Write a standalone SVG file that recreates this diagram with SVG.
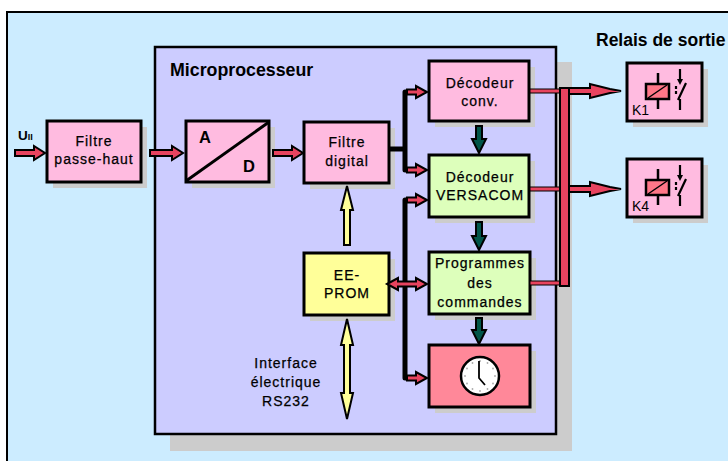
<svg xmlns="http://www.w3.org/2000/svg" width="728" height="461" viewBox="0 0 728 461">
<style>
text{font-family:"Liberation Sans",Arial,sans-serif;fill:#000}
.lbl{font-size:14px;letter-spacing:1px;text-anchor:middle;stroke:#000;stroke-width:0.25}
.bold{font-weight:bold}
.box{stroke:#000;stroke-width:3}
.pink{fill:#FFBBE0}
.green{fill:#DDFFBB}
.yellow{fill:#FFFF99}
.shadow{fill:#CCCCCC}
.red{fill:#E8435F;stroke:#000;stroke-width:2;stroke-linejoin:miter}
.teal{fill:#005548;stroke:#000;stroke-width:2}
.yel{fill:#FFFF99;stroke:#000;stroke-width:2}
.bus{fill:none;stroke:#000;stroke-width:5;stroke-linejoin:round}
.thin{fill:#E8435F;stroke:#000;stroke-width:1}
</style>
<rect x="0" y="0" width="728" height="461" fill="#FFFFFF"/>
<rect x="7" y="12" width="740" height="470" fill="#CCECFF" stroke="#000" stroke-width="2"/>

<g id="microprocesseur">
<rect class="shadow" x="170" y="62" width="402" height="389"/>
<rect x="155" y="47" width="401" height="387" fill="#CCCCFF" stroke="#000" stroke-width="2.5"/>
<text x="170" y="76" class="bold" font-size="17.8">Microprocesseur</text>
</g>

<text x="596" y="46" class="bold" font-size="17.5">Relais de sortie</text>

<g id="u-input">
<text x="18" y="140" class="bold" font-size="13.5">U<tspan font-size="9">II</tspan></text>
</g>

<g id="filtre-passe-haut">
<rect class="shadow" x="53" y="127" width="94" height="61"/>
<rect class="box pink" x="47" y="121" width="94" height="61"/>
<text class="lbl" x="94" y="146">Filtre</text>
<text class="lbl" x="94" y="164">passe-haut</text>
</g>

<g id="ad">
<rect class="shadow" x="192" y="127" width="83" height="61"/>
<rect class="box pink" x="186" y="121" width="83" height="61"/>
<line x1="186" y1="181" x2="269" y2="122" stroke="#000" stroke-width="3"/>
<text x="205" y="143" class="bold" font-size="16.5" text-anchor="middle">A</text>
<text x="249" y="172" class="bold" font-size="16.5" text-anchor="middle">D</text>
</g>

<g id="filtre-digital">
<rect class="shadow" x="310" y="128" width="85" height="61"/>
<rect class="box pink" x="304" y="122" width="85" height="61"/>
<text class="lbl" x="347" y="147">Filtre</text>
<text class="lbl" x="347" y="166">digital</text>
</g>

<g id="ee-prom">
<rect class="shadow" x="310" y="259" width="85" height="62"/>
<rect class="box yellow" x="304" y="253" width="85" height="62"/>
<text class="lbl" x="347" y="280">EE-</text>
<text class="lbl" x="347" y="298">PROM</text>
</g>

<g id="interface-label">
<text class="lbl" x="286" y="368">Interface</text>
<text class="lbl" x="286" y="387">électrique</text>
<text class="lbl" x="286" y="406">RS232</text>
</g>

<g id="decodeur-conv">
<rect class="shadow" x="435" y="67" width="100" height="60"/>
<rect class="box pink" x="429" y="61" width="100" height="60"/>
<text class="lbl" x="480" y="88">Décodeur</text>
<text class="lbl" x="480" y="106">conv.</text>
</g>

<g id="decodeur-versacom">
<rect class="shadow" x="435" y="161" width="100" height="62"/>
<rect class="box green" x="429" y="155" width="100" height="62"/>
<text class="lbl" x="480" y="182">Décodeur</text>
<text class="lbl" x="480" y="200">VERSACOM</text>
</g>

<g id="programmes">
<rect class="shadow" x="435" y="258" width="101" height="62"/>
<rect class="box green" x="429" y="252" width="101" height="62"/>
<text class="lbl" x="480" y="268">Programmes</text>
<text class="lbl" x="480" y="288">des</text>
<text class="lbl" x="480" y="307">commandes</text>
</g>

<g id="horloge">
<rect class="shadow" x="435" y="351" width="101" height="62"/>
<rect class="box" x="429" y="345" width="101" height="62" fill="#FF8899"/>
<circle cx="480" cy="376" r="19" fill="#FFFFFF" stroke="#000" stroke-width="2.5"/>
<g fill="#AAAAAA">
<circle cx="480" cy="361" r="0.9"/><circle cx="487.5" cy="363" r="0.9"/><circle cx="493" cy="368.5" r="0.9"/>
<circle cx="495" cy="376" r="0.9"/><circle cx="493" cy="383.5" r="0.9"/><circle cx="487.5" cy="389" r="0.9"/>
<circle cx="480" cy="391" r="0.9"/><circle cx="472.5" cy="389" r="0.9"/><circle cx="467" cy="383.5" r="0.9"/>
<circle cx="465" cy="376" r="0.9"/><circle cx="467" cy="368.5" r="0.9"/><circle cx="472.5" cy="363" r="0.9"/>
</g>
<path d="M479,361 V378 L485,385" fill="none" stroke="#000" stroke-width="1.8"/>
</g>

<g id="relais-k1">
<rect class="shadow" x="633" y="69" width="75" height="58"/>
<rect class="box pink" x="627" y="63" width="75" height="58"/>
<path d="M658,73 V84 M658,99 V109" stroke="#000" stroke-width="2.5"/>
<rect x="646" y="84" width="23" height="15" fill="#FF7788" stroke="#000" stroke-width="2.5"/>
<line x1="648" y1="98" x2="667" y2="85" stroke="#000" stroke-width="1.5"/>
<path d="M680,69 V82 M680,99 V110 M678,100 L686,83 M676,86 V89 M676,91 V94" fill="none" stroke="#000" stroke-width="2.2"/>
<path d="M677,79 L680,85 L683,79 Z" fill="#000"/>
<text x="632" y="115" font-size="14">K1</text>
</g>

<g id="relais-k4">
<rect class="shadow" x="633" y="165" width="75" height="58"/>
<rect class="box pink" x="627" y="159" width="75" height="58"/>
<path d="M658,169 V180 M658,195 V205" stroke="#000" stroke-width="2.5"/>
<rect x="646" y="180" width="23" height="15" fill="#FF7788" stroke="#000" stroke-width="2.5"/>
<line x1="648" y1="194" x2="667" y2="181" stroke="#000" stroke-width="1.5"/>
<path d="M680,165 V178 M680,195 V206 M678,196 L686,179 M676,182 V185 M676,187 V190" fill="none" stroke="#000" stroke-width="2.2"/>
<path d="M677,175 L680,181 L683,175 Z" fill="#000"/>
<text x="632" y="211" font-size="14">K4</text>
</g>

<g id="connecteurs">
<polygon class="red" points="15,150 34,150 34,146 45,153 34,160 34,156 15,156"/>
<polygon class="red" points="150,150 172,150 172,146 183,153 172,160 172,156 150,156"/>
<polygon class="red" points="273,150 292,150 292,146 303,153 292,160 292,156 273,156"/>
<path class="bus" d="M389,149 H405"/>
<path class="bus" d="M410,92 H405 V170 H410"/>
<path class="bus" d="M410,200 H405 V378 H410"/>
<polygon class="red" points="407,89.5 416,89.5 416,86 427,92 416,98 416,94.5 407,94.5"/>
<polygon class="red" points="407,167.5 416,167.5 416,164 427,170 416,176 416,172.5 407,172.5"/>
<polygon class="red" points="407,197.5 416,197.5 416,194 427,200 416,206 416,202.5 407,202.5"/>
<polygon class="red" points="407,375.5 416,375.5 416,372 427,378 416,384 416,380.5 407,380.5"/>
<polygon class="red" points="387,284 398,278 398,281.5 416,281.5 416,278 427,284 416,290 416,286.5 398,286.5 398,290"/>
<polygon class="teal" points="476,126 482,126 482,139 486,139 479,153 472,139 476,139"/>
<polygon class="teal" points="476,222 482,222 482,236 486,236 479,250 472,236 476,236"/>
<polygon class="teal" points="476,318 482,318 482,330 486,330 479,344 472,330 476,330"/>
<polygon class="yel" points="347,186 353,210 350,210 350,245 344,245 344,210 341,210"/>
<polygon class="yel" points="347,319 353,345 350,345 350,393 353,393 347,419 341,393 344,393 344,345 341,345"/>
<rect class="thin" x="530" y="89" width="31" height="4"/>
<rect class="thin" x="530" y="187" width="31" height="4"/>
<rect class="thin" x="530" y="281" width="31" height="4"/>
<rect x="560" y="88" width="9" height="198" fill="#E8435F" stroke="#000" stroke-width="2"/>
<polygon class="red" points="569,88 590,88 590,84 610,89 621,91 610,93 590,98 590,94 569,94"/>
<polygon class="red" points="569,186 590,186 590,182 610,187 621,189 610,191 590,196 590,192 569,192"/>
</g>
</svg>
